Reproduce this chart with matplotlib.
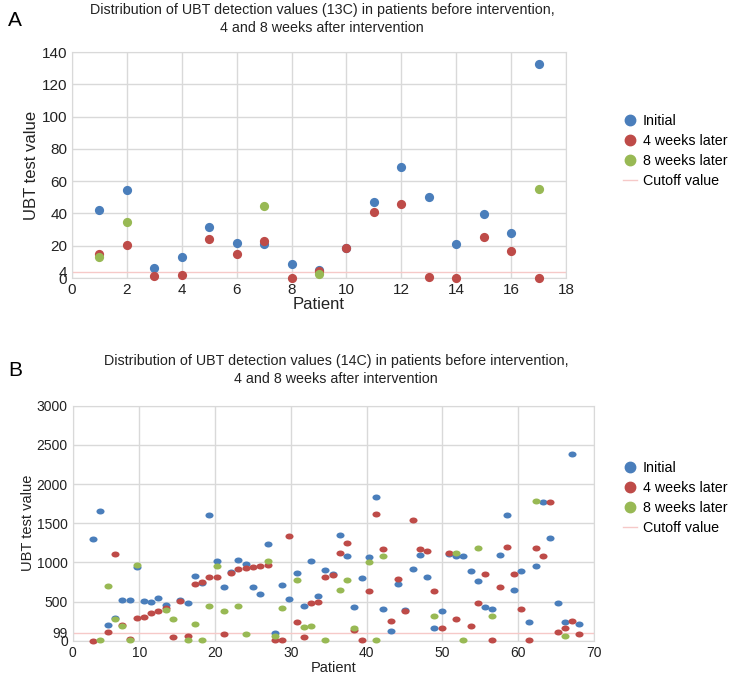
import numpy as np
import matplotlib
matplotlib.use('Agg')
import matplotlib.pyplot as plt
from matplotlib.path import Path
from matplotlib.transforms import Affine2D
from matplotlib.lines import Line2D

plt.rcParams['font.family'] = ['Liberation Sans', 'DejaVu Sans']

nan = np.nan

# ---- panel A data (13C) ----
patients_a = list(range(1, 18))
initial_a = [42.2, 54.5, 6.2, 13.3, 31.7, 21.5, 20.9, 8.5, 5.2, 18.6,
             47.2, 68.7, 50.1, 20.9, 39.5, 28.0, 132.3]
week4_a = [14.9, 20.5, 1.2, 2.1, 24.0, 14.7, 22.8, 0.0, 4.3, 18.6,
           40.6, 45.8, 0.4, 0.2, 25.7, 16.6, 0.0]
week8_a = [13.0, 34.6, nan, nan, nan, nan, 44.7, nan, 2.3, nan,
           nan, nan, nan, nan, nan, nan, 55.3]
cutoff_a = 4

# ---- panel B data (14C) ----
patients_b = [3.89, 4.85, 5.83, 6.79, 7.76, 8.73, 9.70, 10.62, 11.54, 12.51,
              13.48, 14.45, 15.41, 16.39, 17.35, 18.27, 19.24, 20.21, 21.18, 22.10,
              23.06, 24.04, 25.00, 25.97, 26.94, 27.87, 28.83, 29.79, 30.77, 31.69,
              32.66, 33.62, 34.51, 35.52, 36.48, 37.45, 38.37, 39.35, 40.31, 41.27,
              42.20, 43.17, 44.14, 45.10, 46.08, 47.00, 47.97, 48.93, 49.90, 50.83,
              51.79, 52.76, 53.73, 54.66, 55.62, 56.58, 57.56, 58.52, 59.49, 60.41,
              61.39, 62.35, 63.27, 64.24, 65.21, 66.18, 67.10, 68.06]
initial_b = [1297, 1654, 204, 284, 521, 521, 945, 505, 500, 543,
             458, nan, 521, 479, 827, 733, 1611, 1018, 691, 873,
             1035, 975, 683, 594, 1234, 98, 712, 534, 861, 449,
             1018, 572, 899, 852, 1349, 1077, 432, 806, 1068, 1840,
             407, 123, 721, 386, 916, 1094, 810, 165, 382, 1107,
             1085, 1085, 890, 763, 428, 399, 1090, 1611, 649, 895,
             242, 950, 1777, 1310, 483, 233, 2387, 208]
week4_b = [0, nan, 110, 1107, 204, 25, 288, 297, 360, 373,
           415, 51, 513, 64, 721, 746, 810, 818, 89, 861,
           912, 924, 946, 958, 971, 4, 4, 1331, 237, 51,
           479, 488, 814, 835, 1124, 1242, 140, 13, 636, 1615,
           1170, 246, 789, 373, 1535, 1174, 1141, 636, 161, 1115,
           276, nan, 187, 483, 856, 8, 691, 1200, 856, 411,
           4, 1187, 1077, 1777, 110, 165, 250, 85]
week8_b = [nan, 4, 700, 271, 182, 4, 962, nan, nan, nan,
           386, 271, nan, 4, 212, 4, 437, 950, 382, nan,
           445, 89, nan, nan, 1013, 55, 416, nan, 776, 178,
           182, nan, 4, nan, 649, 780, 165, nan, 1001, 4,
           1081, nan, nan, nan, nan, nan, nan, 310, nan, nan,
           1124, 4, nan, 1179, nan, 314, nan, nan, nan, nan,
           nan, 1789, nan, nan, nan, 59, nan, nan]
cutoff_b = 99

BLUE = '#4a7ebb'
RED = '#be4b48'
GREEN = '#98b954'
PINK = '#f6c9c8'
GRID = '#d9d9d9'
TXT = '#222222'

W, H = 732, 684
fig = plt.figure(figsize=(W / 100, H / 100), dpi=100)


def px_axes(l, t, r, b):
    return fig.add_axes([l / W, 1 - b / H, (r - l) / W, (b - t) / H])


def style(ax, fs):
    for s in ax.spines.values():
        s.set_color(GRID)
    ax.grid(True, which='major', color=GRID, lw=1)
    ax.set_axisbelow(True)
    ax.tick_params(which='both', length=0, labelsize=fs, colors=TXT)


def legend(y_top, fs):
    handles = [
        Line2D([], [], ls='none', marker='o', ms=7.5, color=BLUE),
        Line2D([], [], ls='none', marker='o', ms=7.5, color=RED),
        Line2D([], [], ls='none', marker='o', ms=7.5, color=GREEN),
        Line2D([], [], color=PINK, lw=1),
    ]
    labels = ['Initial', '4 weeks later', '8 weeks later', 'Cutoff value']
    fig.legend(handles, labels, loc='upper left', bbox_to_anchor=(623 / W, 1 - y_top / H),
               frameon=False, fontsize=fs, handlelength=1.0, handletextpad=0.4,
               labelspacing=0.42, borderaxespad=0, borderpad=0)


# ---------------- Panel A ----------------
axA = px_axes(72, 52, 566, 278)
axA.scatter(patients_a, initial_a, s=44, color=BLUE, lw=0, zorder=3, clip_on=False)
axA.scatter(patients_a, week4_a, s=44, color=RED, lw=0, zorder=4, clip_on=False)
axA.scatter(patients_a, week8_a, s=44, color=GREEN, lw=0, zorder=5, clip_on=False)
axA.axhline(cutoff_a, color=PINK, lw=1, zorder=2)
axA.set_xlim(0, 18)
axA.set_ylim(0, 140)
axA.set_xticks(range(0, 19, 2))
axA.set_yticks(range(0, 141, 20))
axA.set_yticks([cutoff_a], labels=[str(cutoff_a)], minor=True)
style(axA, 11)
axA.set_xlabel('Patient', fontsize=12, color=TXT, labelpad=0)
axA.set_ylabel('UBT test value', fontsize=12, color=TXT, labelpad=2)
legend(114, 10.3)

fig.text(8 / W, 1 - 20 / H, 'A', fontsize=15, va='center')
fig.text(322 / W, 1 - 3 / H,
         'Distribution of UBT detection values (13C) in patients before intervention,\n'
         '4 and 8 weeks after intervention',
         ha='center', va='top', fontsize=10.3, linespacing=1.35, color=TXT)

# ---------------- Panel B ----------------
ell = Path.unit_circle().transformed(Affine2D().scale(1.35, 1.0))
axB = px_axes(72.7, 405.7, 594, 640.7)
axB.scatter(patients_b, initial_b, s=34, marker=ell, color=BLUE, lw=0, zorder=3, clip_on=False)
axB.scatter(patients_b, week4_b, s=34, marker=ell, color=RED, lw=0, zorder=4, clip_on=False)
axB.scatter(patients_b, week8_b, s=34, marker=ell, color=GREEN, lw=0, zorder=5, clip_on=False)
axB.axhline(cutoff_b, color=PINK, lw=1, zorder=2)
x0 = 1.21
axB.set_xlim(x0, 70)
axB.set_xticks([x0] + list(range(10, 71, 10)), labels=['0'] + [str(v) for v in range(10, 71, 10)])
axB.set_ylim(0, 3000)
axB.set_yticks(range(0, 3001, 500))
axB.set_yticks([cutoff_b], labels=[str(cutoff_b)], minor=True)
style(axB, 10)
axB.set_xlabel('Patient', fontsize=10.5, color=TXT, labelpad=1)
axB.set_ylabel('UBT test value', fontsize=10.5, color=TXT, labelpad=1)
legend(461, 10.3)

fig.text(8 / W, 1 - 370 / H, 'B', fontsize=15, va='center')
fig.text(336 / W, 1 - 354 / H,
         'Distribution of UBT detection values (14C) in patients before intervention,\n'
         '4 and 8 weeks after intervention',
         ha='center', va='top', fontsize=10.3, linespacing=1.35, color=TXT)

fig.savefig('out.png', dpi=100)
